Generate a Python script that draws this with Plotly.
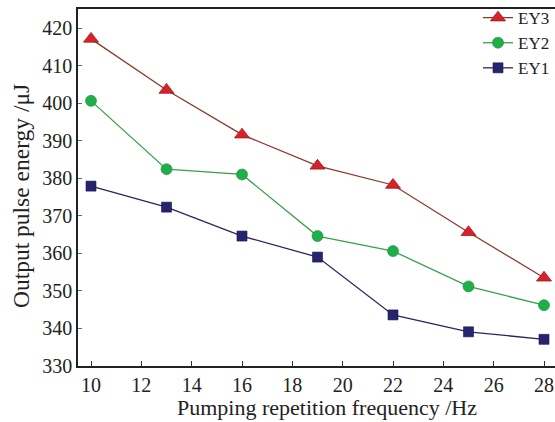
import plotly.graph_objects as go

freq = [10, 13, 16, 19, 22, 25, 28]
ey3 = [417.1, 403.5, 391.6, 383.3, 378.2, 365.6, 353.5]
ey2 = [400.6, 382.4, 381.0, 364.6, 360.6, 351.2, 346.2]
ey1 = [377.9, 372.3, 364.6, 359.0, 343.6, 339.1, 337.1]
x_ticks = [10, 12, 14, 16, 18, 20, 22, 24, 26, 28]
y_ticks = [330, 340, 350, 360, 370, 380, 390, 400, 410, 420]
x_title = "Pumping repetition frequency /Hz"
y_title = "Output pulse energy /μJ"

font = "Liberation Serif"
fig = go.Figure()
fig.add_trace(go.Scatter(x=freq, y=ey3, name="EY3", mode="lines+markers",
                         line=dict(color="#8a3a2c", width=1.3),
                         marker=dict(symbol="triangle-up", size=13, color="#d8212a",
                                     line=dict(color="#9a1b1b", width=0.8))))
fig.add_trace(go.Scatter(x=freq, y=ey2, name="EY2", mode="lines+markers",
                         line=dict(color="#3aa04a", width=1.3),
                         marker=dict(symbol="circle", size=11, color="#1fae48",
                                     line=dict(color="#1a8a3a", width=0.6))))
fig.add_trace(go.Scatter(x=freq, y=ey1, name="EY1", mode="lines+markers",
                         line=dict(color="#2c2460", width=1.3),
                         marker=dict(symbol="square", size=10, color="#27246e",
                                     line=dict(color="#1a1650", width=0.6))))

fig.update_layout(
    width=555, height=422,
    margin=dict(l=78, r=0, t=9, b=56),
    paper_bgcolor="white", plot_bgcolor="white",
    font=dict(family=font, size=20, color="#222"),
    showlegend=True,
    legend=dict(x=1.0, xanchor="right", y=1.025, yanchor="top",
                bgcolor="rgba(0,0,0,0)", font=dict(size=17, family=font),
                tracegroupgap=0, itemwidth=30),
    xaxis=dict(range=[9.483, 28.437], tickvals=x_ticks, ticks="inside", ticklen=5,
               tickcolor="#333", showline=True, linecolor="#222", linewidth=1.5,
               mirror=True, showgrid=False, zeroline=False,
               tickfont=dict(size=20)),
    yaxis=dict(range=[330, 425.06], tickvals=y_ticks, ticks="inside", ticklen=4,
               tickcolor="#666", showline=True, linecolor="#222", linewidth=1.5,
               showgrid=False, zeroline=False,
               tickfont=dict(size=20)),
    annotations=[
        dict(text=x_title, xref="paper", yref="paper", x=0.521, y=-0.1176,
             xanchor="center", yanchor="middle", showarrow=False,
             font=dict(size=22, family=font, color="#222")),
        dict(text=y_title, xref="paper", yref="paper", x=-0.1195, y=0.476,
             xanchor="center", yanchor="middle", textangle=-90, showarrow=False,
             font=dict(size=23.5, family=font, color="#222")),
    ],
)
fig.write_html("out.html")
